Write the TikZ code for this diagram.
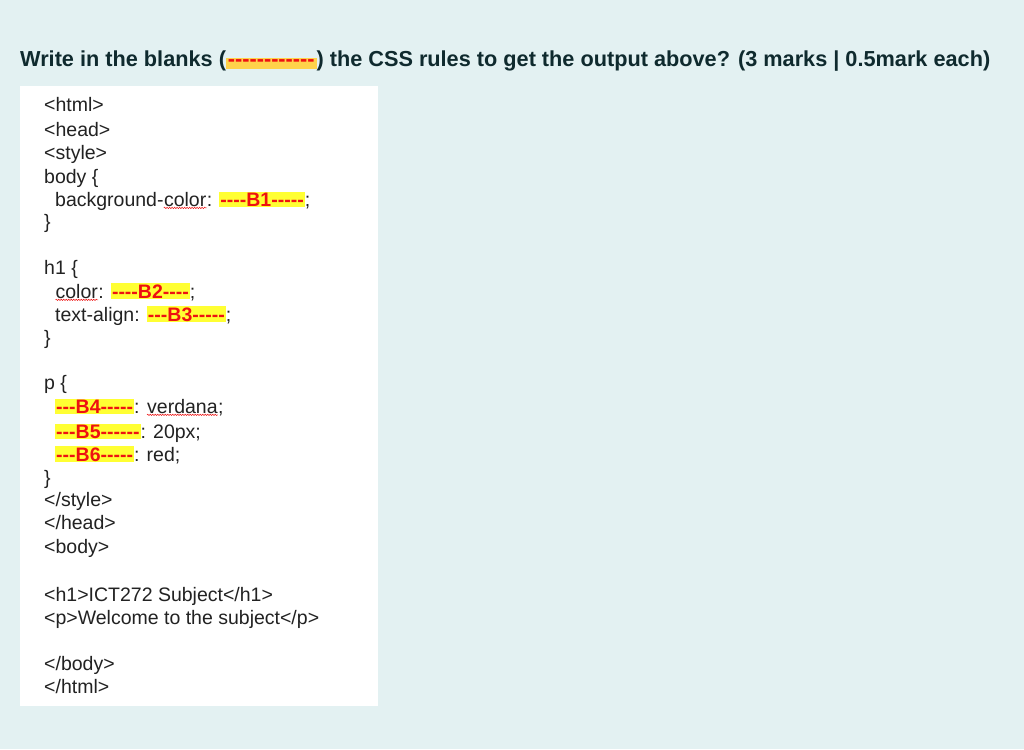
\documentclass[tikz,border=0pt]{standalone}
\usepackage{fontspec}
\setmainfont{Liberation Sans}
\usetikzlibrary{decorations.pathmorphing}
\definecolor{bg}{HTML}{E3F1F2}
\definecolor{hl}{HTML}{FFFF33}
\definecolor{hlo}{HTML}{FFD24A}
\definecolor{tt}{HTML}{0F2A2E}
\definecolor{ct}{HTML}{222222}
\definecolor{rd}{HTML}{EE1111}
\newcommand{\blk}[1]{{\setlength{\fboxsep}{1pt}\colorbox{hl}{\textcolor{rd}{\bfseries #1}}}}
\newcommand{\wv}[1]{\tikz[baseline=(w.base)]{\node[inner sep=0pt,text=ct](w){#1};\draw[rd,line width=0.5pt,decorate,decoration={snake,amplitude=0.7pt,segment length=2.5pt}] ([yshift=-1.5pt]w.south west)--([yshift=-1.5pt]w.south east);}}
\tikzset{code/.style={anchor=base west,inner sep=0pt,font=\fontsize{19.5}{22}\selectfont,text=ct}}
\begin{document}
\begin{tikzpicture}[x=1pt,y=-1pt]
\useasboundingbox (0,0) rectangle (1024,749);
\fill[bg] (0,0) rectangle (1024,749);
\fill[white] (20,86) rectangle (378,706);
\node[anchor=base west,inner sep=0pt,text=tt] (title) at (20,67) {\resizebox{970pt}{!}{\fontsize{17}{20}\selectfont\bfseries Write in the blanks ({\setlength{\fboxsep}{1.5pt}\colorbox{hlo}{\textcolor{rd}{-{}-{}-{}-{}-{}-{}-{}-{}-{}-{}-{}-}}}) the CSS rules to get the output above? (3 marks | 0.5mark each)}};
\node[code] (l1) at (44,112) {<html>};
\node[code] (l2) at (44,136) {<head>};
\node[code] (l3) at (44,159) {<style>};
\node[code] (l4) at (44,183) {body \{};
\node[code] (l5) at (55,206) {background-\wv{color}: \blk{-{}-{}-{}-B1-{}-{}-{}-{}-};};
\node[code] (l6) at (44,228) {\}};
\node[code] (l7) at (44,274) {h1 \{};
\node[code] (l8) at (55,298) {\wv{color}: \blk{-{}-{}-{}-B2-{}-{}-{}-};};
\node[code] (l9) at (55,321) {text-align: \blk{-{}-{}-B3-{}-{}-{}-{}-};};
\node[code] (l10) at (44,344) {\}};
\node[code] (l11) at (44,389) {p \{};
\node[code] (l12) at (55,413) {\blk{-{}-{}-B4-{}-{}-{}-{}-}: \wv{verdana};};
\node[code] (l13) at (55,438) {\blk{-{}-{}-B5-{}-{}-{}-{}-{}-}: 20px;};
\node[code] (l14) at (55,461) {\blk{-{}-{}-B6-{}-{}-{}-{}-}: red;};
\node[code] (l15) at (44,484) {\}};
\node[code] (l16) at (44,506) {</style>};
\node[code] (l17) at (44,529) {</head>};
\node[code] (l18) at (44,553) {<body>};
\node[code] (l19) at (44,601) {<h1>ICT272 Subject</h1>};
\node[code] (l20) at (44,624) {<p>Welcome to the subject</p>};
\node[code] (l21) at (44,670) {</body>};
\node[code] (l22) at (44,693) {</html>};
\end{tikzpicture}
\end{document}
